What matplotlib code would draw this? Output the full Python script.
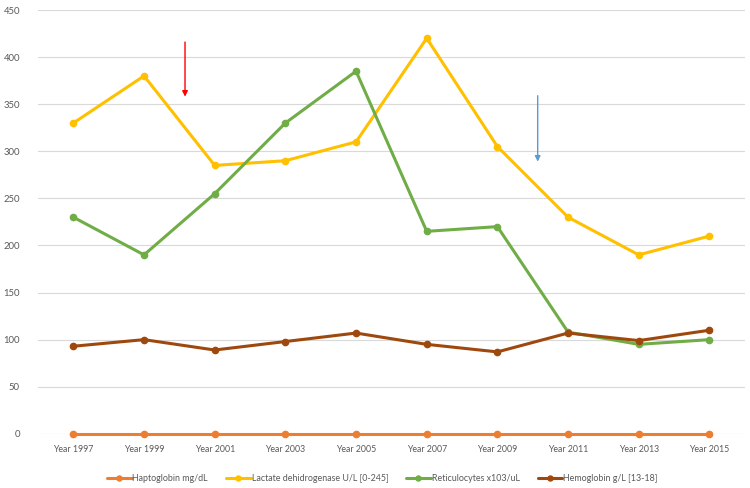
import numpy as np
import matplotlib.pyplot as plt

plt.rcParams['font.family'] = ['Lato', 'DejaVu Sans']

years = ["Year 1997", "Year 1999", "Year 2001", "Year 2003", "Year 2005",
         "Year 2007", "Year 2009", "Year 2011", "Year 2013", "Year 2015"]
haptoglobin = [0, 0, 0, 0, 0, 0, 0, 0, 0, 0]
lactate = [330, 380, 285, 290, 310, 420, 305, 230, 190, 210]
reticulocytes = [230, 190, 255, 330, 385, 215, 220, 108, 95, 100]
hemoglobin = [93, 100, 89, 98, 107, 95, 87, 107, 99, 110]

series = [
    ("Haptoglobin mg/dL", haptoglobin, "#ED7D31"),
    ("Lactate dehidrogenase U/L [0-245]", lactate, "#FFC000"),
    ("Reticulocytes x103/uL", reticulocytes, "#70AD47"),
    ("Hemoglobin g/L [13-18]", hemoglobin, "#9E480E"),
]

fig = plt.figure(figsize=(7.5, 4.88), dpi=100)
ax = fig.add_axes([0.0507, 0.111, 0.9423, 0.8685])

x = np.arange(len(years))
for name, vals, col in series:
    ax.plot(x, vals, color=col, lw=2.2, marker='o', markersize=4.5,
            label=name, solid_capstyle='round', zorder=3, clip_on=False)

# arrows
ax.annotate("", xy=(1.58, 358), xytext=(1.58, 416),
            arrowprops=dict(arrowstyle="-|>", color="#FF0000", lw=1,
                            mutation_scale=8, shrinkA=0, shrinkB=0))
ax.annotate("", xy=(6.57, 289), xytext=(6.57, 359),
            arrowprops=dict(arrowstyle="-|>", color="#5B9BD5", lw=1,
                            mutation_scale=8, shrinkA=0, shrinkB=0))

ax.set_xlim(-0.5, len(years) - 0.5)
ax.set_ylim(0, 450)
ax.set_yticks(np.arange(0, 451, 50))
ax.set_xticks(x)
ax.set_xticklabels(years)
ax.grid(axis='y', color='#D9D9D9', lw=0.8)
ax.set_axisbelow(True)
for s in ax.spines.values():
    s.set_visible(False)
ax.tick_params(length=0, labelsize=6.3, colors='#595959', pad=8)
ax.tick_params(axis='y', labelsize=6.8, pad=13)

ax.legend(loc='upper center', bbox_to_anchor=(0.487, -0.075), ncol=4,
          frameon=False, fontsize=6.4, handlelength=2.8, columnspacing=2.0,
          handletextpad=0.1, labelcolor='#595959', markerscale=0.8)

plt.savefig("out.png", dpi=100)
